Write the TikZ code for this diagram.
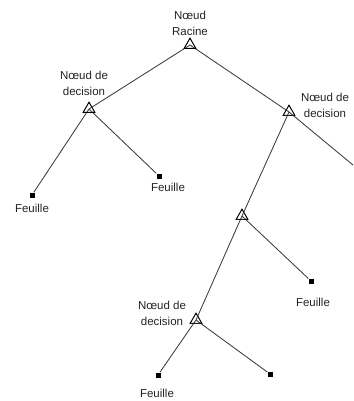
\documentclass[tikz,border=0pt]{standalone}
\usepackage{fontspec}
\setmainfont{Liberation Sans}
\usetikzlibrary{shapes.geometric}
\definecolor{linegray}{RGB}{60,60,60}
\definecolor{textgray}{RGB}{35,35,35}
\begin{document}
\begin{tikzpicture}[x=1pt,y=-1pt,
  decisionnode/.style={regular polygon,regular polygon sides=3,draw=black,fill=white,
    minimum size=13pt,inner sep=0pt,line width=0.6pt},
  leafnode/.style={rectangle,fill=black,minimum size=5pt,inner sep=0pt},
  label/.style={text=textgray,align=center,inner sep=0pt,
    font=\fontsize{11.5}{16}\selectfont},
  branch/.style={draw=linegray,line width=0.85pt}]
  \useasboundingbox (0,0) rectangle (353,401);
  % tree nodes
  \node[decisionnode] (root) at (190,45) {};
  \node[decisionnode] (d1) at (89,109) {};
  \node[decisionnode] (d2) at (289,112) {};
  \node[decisionnode] (d3) at (242,216) {};
  \node[decisionnode] (d4) at (196,320) {};
  \node[leafnode] (l1) at (32,195) {};
  \node[leafnode] (l2) at (159,176) {};
  \node[leafnode] (l3) at (311,281) {};
  \node[leafnode] (l4) at (158,375) {};
  \node[leafnode] (l5) at (270,374) {};
  \coordinate (out) at (353,165);
  % branches
  \draw[branch] (root.center) -- (d1.center);
  \draw[branch] (root.center) -- (d2.center);
  \draw[branch] (d1.center) -- (l1);
  \draw[branch] (d1.center) -- (l2);
  \draw[branch] (d2.center) -- (out);
  \draw[branch] (d2.center) -- (d3.center);
  \draw[branch] (d3.center) -- (l3);
  \draw[branch] (d3.center) -- (d4.center);
  \draw[branch] (d4.center) -- (l4);
  \draw[branch] (d4.center) -- (l5);
  % triangle outlines on top of the branches
  \foreach \n in {root,d1,d2,d3,d4}
    \draw[black,line width=0.6pt] (\n.corner 1) -- (\n.corner 2) -- (\n.corner 3) -- cycle;
  % labels
  \node[label] (troot) at (190,23) {Nœud\\Racine};
  \node[label] (td1) at (84,83) {Nœud de\\decision};
  \node[label] (td2) at (325,105) {Nœud de\\decision};
  \node[label] (td4) at (162,313) {Nœud de\\decision};
  \node[label] (tl1) at (32,208) {Feuille};
  \node[label] (tl2) at (168,187) {Feuille};
  \node[label] (tl3) at (313,302) {Feuille};
  \node[label] (tl4) at (157,393) {Feuille};
\end{tikzpicture}
\end{document}
